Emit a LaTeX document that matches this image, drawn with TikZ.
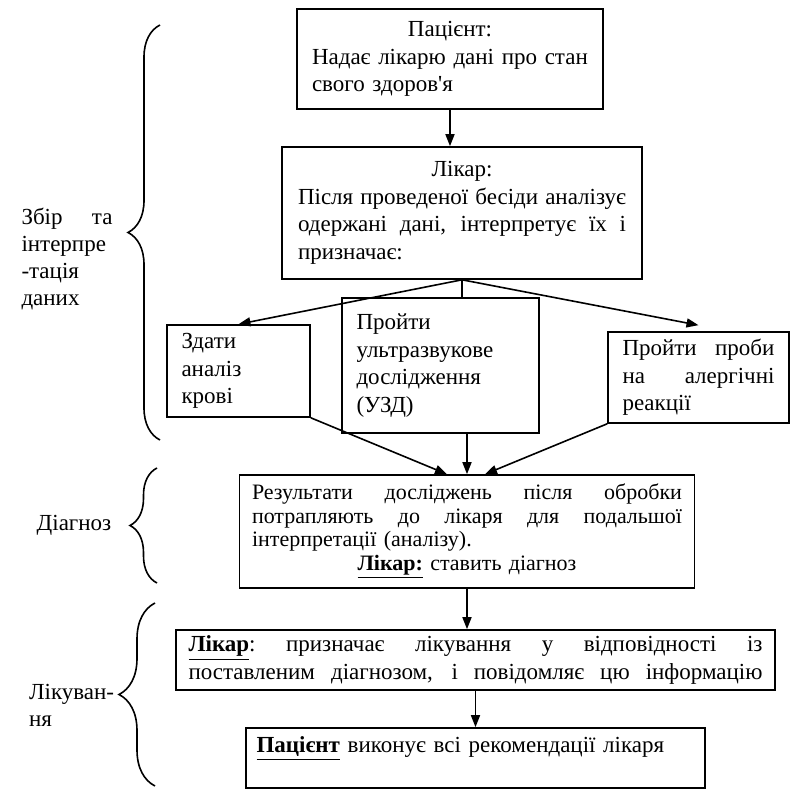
\documentclass[tikz,border=0pt]{standalone}
\usepackage{fontspec}
\setmainfont{Liberation Serif}
\usetikzlibrary{arrows.meta,decorations.pathreplacing}
\newcommand{\fullline}[1]{\leavevmode\hbox to\hsize{\spaceskip=.25em plus 1fil\xspaceskip=\spaceskip #1}}
\newcommand{\midline}[1]{\leavevmode\hbox to\hsize{\hfil #1\hfil}}

\begin{document}
\begin{tikzpicture}[x=0.5pt,y=-0.5pt,
      box/.style={draw,line width=0.8pt,inner sep=0pt,align=left,
      font=\fontsize{11.5}{13.8}\selectfont},
      lbl/.style={align=left,font=\fontsize{11.5}{13.5}\selectfont},
      arrow/.style={-{Triangle[length=6pt,width=4.5pt]},line width=0.8pt},
      link/.style={line width=0.8pt},
      curly/.style={decorate,decoration={brace,amplitude=#1},line width=0.8pt}
    ]
    \useasboundingbox (0,0) rectangle (797,790);
    % boxes of the flow
    \node[box,minimum width=153pt,minimum height=50pt,text width=138pt] at (450,59) (pat)
      {\midline{Пацієнт:}\\ Надає лікарю дані про стан\\ свого здоров\textquotesingle я};
    \node[box,minimum width=180pt,minimum height=66pt,text width=164pt] at (462,213) (lik)
      {\midline{Лікар:}\\ \fullline{Після проведеної бесіди аналізує}\\
       \fullline{одержані дані, інтерпретує їх і}\\ призначає:};
    \node[box,minimum width=71.5pt,minimum height=46pt,text width=57pt] at (238.5,371) (zdaty)
      {Здати\\ аналіз\\ крові};
    \node[box,minimum width=98.5pt,minimum height=67.5pt,text width=84pt] at (440.5,365.5) (uzd)
      {Пройти\\ ультразвукове\\ дослідження\\ (УЗД)};
    \node[box,minimum width=90.5pt,minimum height=45.5pt,text width=76pt] at (698.5,377.5) (probi)
      {\fullline{Пройти проби}\\ \fullline{на алергічні}\\ реакції};
    \node[box,minimum width=227.5pt,minimum height=56.5pt,text width=215pt,
      font=\fontsize{11}{11.75}\selectfont] at (467,531.5) (rez)
      {\fullline{Результати досліджень після обробки}\\
       \fullline{потрапляють до лікаря для подальшої}\\
       інтерпретації (аналізу).\\
       \midline{\underline{\textbf{Лікар:}} ставить діагноз}};
    \node[box,minimum width=299.5pt,minimum height=30pt,text width=287pt,
      font=\fontsize{11.5}{14}\selectfont] at (475.5,660) (lik2)
      {\fullline{\underline{\textbf{Лікар}}: призначає лікування у відповідності із}\\
       \fullline{поставленим діагнозом, і повідомляє цю інформацію}};
    \node[box,minimum width=229.5pt,minimum height=30pt,text width=219pt] at (475.5,758) (pac2)
      {\underline{\textbf{Пацієнт}} виконує всі рекомендації лікаря\\ \mbox{}};
    % stages on the left
    \node[lbl,text width=45.5pt] at (67,259) (collect)
      {\fullline{Збір та}\\ інтерпре\\ -тація\\ даних};
    \node[lbl] at (74,525) (diag) {Діагноз};
    \node[lbl,anchor=west] at (22,705) (treat) {Лікуван-\\ня};
    \draw[curly=16pt] (160,440) -- (160,25);
    \draw[curly=13.5pt] (157,583) -- (157,468);
    \draw[curly=18pt] (155,786) -- (155,603);
    % connectors
    \draw[arrow] (pat.south) -- (pat.south |- lik.north);
    \draw[arrow] (lik.south) -- (zdaty.north);
    \draw[link] (lik.south) -- (lik.south |- uzd.north);
    \draw[arrow] (lik.south) -- ([yshift=3pt]probi.north);
    \draw[arrow] (zdaty.south east) -- ([xshift=-10pt]rez.north);
    \draw[arrow] (rez.north |- uzd.south) -- (rez.north);
    \draw[arrow] (probi.south west) -- ([xshift=9pt]rez.north);
    \draw[arrow] (rez.south) -- (rez.south |- lik2.north);
    \draw[arrow] (lik2.south) -- (lik2.south |- pac2.north);
  \end{tikzpicture}
\end{document}
